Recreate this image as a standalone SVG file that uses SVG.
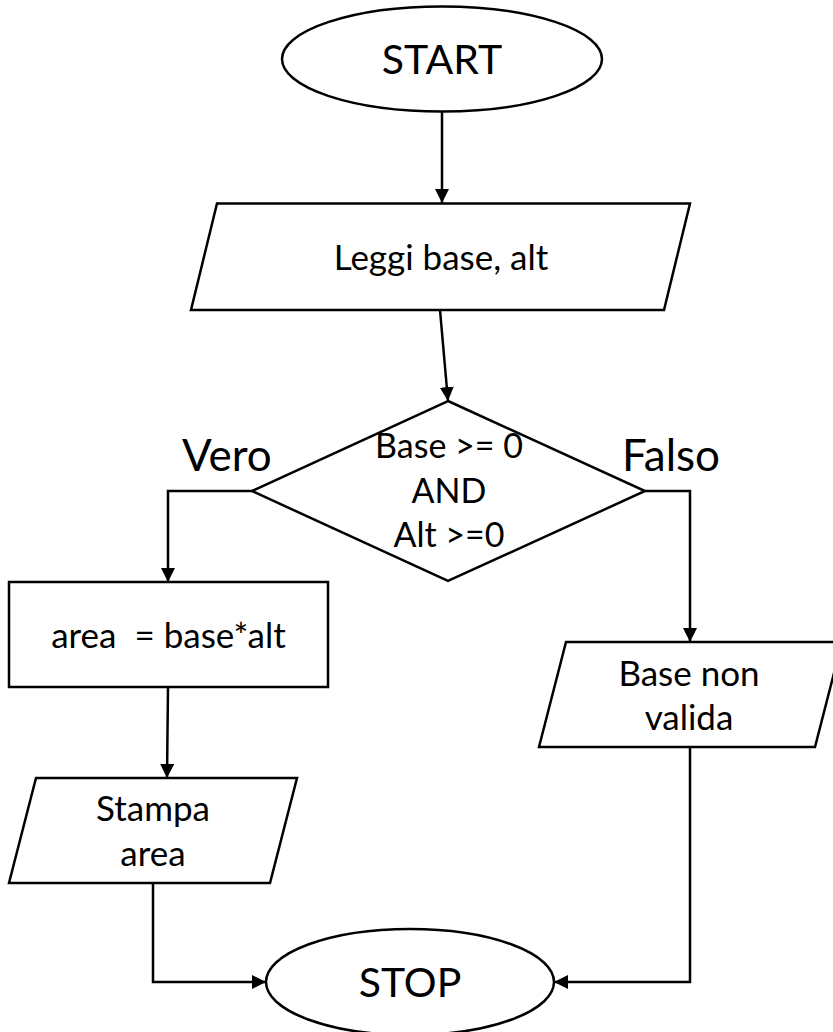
<svg xmlns="http://www.w3.org/2000/svg" width="833" height="1032" viewBox="0 0 833 1032">
<style>
.s{fill:#fff;stroke:#000;stroke-width:2.5;stroke-linejoin:miter}
.c{fill:none;stroke:#000;stroke-width:2.5}
.t{font-family:Lato,"Open Sans","Liberation Sans",sans-serif;fill:#000;text-anchor:middle;font-size:35px}
.d{font-size:34px}
.b{font-size:41px}
.v{font-size:44px;text-anchor:start}
</style>
<defs>
<marker id="ah" markerUnits="userSpaceOnUse" markerWidth="14" markerHeight="14" refX="14" refY="7" orient="auto" viewBox="0 0 14 14">
<path d="M0,0 L14,7 L0,14 z" fill="#000"/>
</marker>
</defs>
<g id="connectors">
<path class="c" d="M442,112 L442,203" marker-end="url(#ah)"/>
<path class="c" d="M440,310 L448,401" marker-end="url(#ah)"/>
<path class="c" d="M252,491 L168,491 L168,582" marker-end="url(#ah)"/>
<path class="c" d="M645,491 L690,491 L690,642" marker-end="url(#ah)"/>
<path class="c" d="M168,687 L167,778" marker-end="url(#ah)"/>
<path class="c" d="M153,883 L153,982 L266,982" marker-end="url(#ah)"/>
<path class="c" d="M690,747 L690,982 L554,982" marker-end="url(#ah)"/>
</g>
<g id="start">
<ellipse class="s" cx="442" cy="59" rx="160" ry="52.5"/>
<text class="t b" x="442" y="74">START</text>
</g>
<g id="leggi">
<polygon class="s" points="217,203.5 690,203.5 664,310 191,310"/>
<text class="t" x="441" y="270">Leggi base, alt</text>
</g>
<g id="decision">
<polygon class="s" points="448,401 645,491 448,581 252,491"/>
<text class="t d" x="449" y="458">Base &gt;= 0</text>
<text class="t d" x="449" y="503">AND</text>
<text class="t d" x="449" y="547">Alt &gt;=0</text>
</g>
<g id="label-vero">
<text class="t v" x="182" y="471">Vero</text>
</g>
<g id="label-falso">
<text class="t v" x="622" y="471">Falso</text>
</g>
<g id="area">
<rect class="s" x="9" y="582" width="319" height="105"/>
<text class="t" x="168.5" y="648" xml:space="preserve">area  = base*alt</text>
</g>
<g id="stampa">
<polygon class="s" points="36,778 297,778 270,883 9,883"/>
<text class="t" x="153" y="821">Stampa</text>
<text class="t" x="153" y="866">area</text>
</g>
<g id="nonvalida">
<polygon class="s" points="566,642 842,642 815,747 539,747"/>
<text class="t" x="689" y="686">Base non</text>
<text class="t" x="689" y="730">valida</text>
</g>
<g id="stop">
<ellipse class="s" cx="410" cy="982" rx="144" ry="53"/>
<text class="t b" x="410" y="997">STOP</text>
</g>
</svg>
